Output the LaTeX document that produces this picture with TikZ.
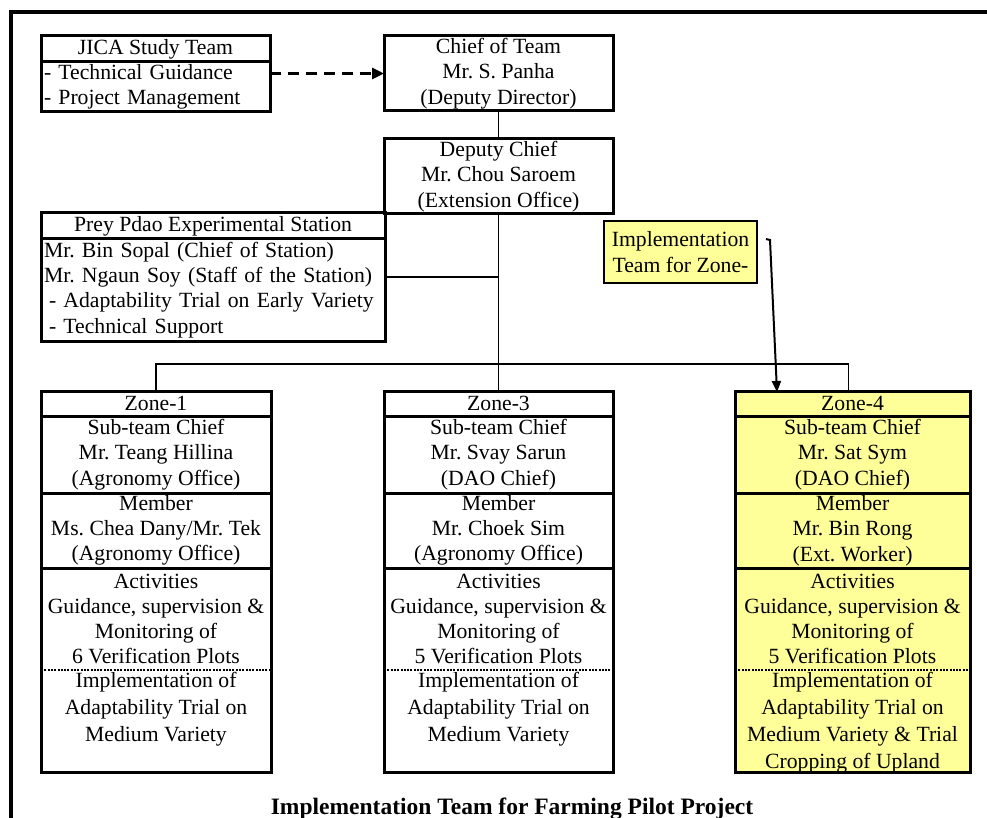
\documentclass[tikz,border=0pt]{standalone}
\usepackage{fontspec}
\setmainfont{Liberation Serif}
\definecolor{TagYellow}{HTML}{FFFF99}
\usetikzlibrary{arrows.meta, calc, positioning}
\frenchspacing

\begin{document}
\begin{tikzpicture}[x=1pt, y=-1pt,
   cell/.style={draw, line width=3pt, anchor=north west, inner sep=0pt, outer sep=0pt,
      align=center, font=\fontsize{21.7}{25.3}\selectfont},
   leftcell/.style={cell, align=left, inner xsep=3pt},
   txt/.style={inner sep=0pt, align=center, font=\fontsize{21.7}{25.3}\selectfont},
   impltxt/.style={inner sep=0pt, align=center, anchor=north, font=\fontsize{21.7}{27}\selectfont},
   link/.style={line width=1.3pt},
   sepdots/.style={line width=2.5pt, dash pattern=on 2pt off 1.3pt}]
            \useasboundingbox (0,0) rectangle (987,818);
            % Frame
            \draw[line width=4pt] (11,830) -- (11,12) -- (1000,12);
            % JICA
            \node[cell, minimum width=229, minimum height=26] (jicahead) at (41,36) {JICA Study Team};
            \node[leftcell, minimum width=229, minimum height=50, text width=223] (jicabody) at (41,62)
               {- Technical Guidance\\- Project Management};
            % Chief and deputy
            \node[cell, minimum width=229, minimum height=75] (chief) at (384,36)
               {Chief of Team\\Mr. S. Panha\\(Deputy Director)};
            \node[cell, minimum width=229, minimum height=75] (deputy) at (384,139)
               {Deputy Chief\\Mr. Chou Saroem\\(Extension Office)};
            % Station
            \node[cell, minimum width=344, minimum height=26] (stationhead) at (41,213) {Prey Pdao Experimental Station};
            \node[leftcell, minimum width=344, minimum height=102, text width=338] (stationbody) at (41,239)
               {Mr. Bin Sopal (Chief of Station)\\Mr. Ngaun Soy (Staff of the Station)\\
                \hspace*{5pt}- Adaptability Trial on Early Variety\\\hspace*{5pt}- Technical Support};
            % Zone-4 tag
            \node[cell, line width=1.5pt, fill=TagYellow, minimum width=153, minimum height=62] (tag) at (604,221)
               {Implementation\\Team for Zone-};
            % Zone-1
            \node[cell, minimum width=230, minimum height=25] (z1head) at (41,391) {Zone-1};
            \node[cell, minimum width=230, minimum height=77] (z1chief) at (41,416)
               {Sub-team Chief\\Mr. Teang Hillina\\(Agronomy Office)};
            \node[cell, minimum width=230, minimum height=75] (z1member) at (41,493)
               {Member\\Ms. Chea Dany/Mr. Tek\\(Agronomy Office)};
            \node[cell, minimum width=230, minimum height=204] (z1low) at (41,568) {};
            \node[txt] (z1act) at ($(z1low.north)+(0,51)$)
               {Activities\\Guidance, supervision \&\\Monitoring of\\6 Verification Plots};
            \node[impltxt] (z1impl) at ($(z1low.north)+(0,104)$)
               {Implementation of\\Adaptability Trial on\\Medium Variety};
            \draw[sepdots] ($(z1low.north west)+(0,102)$) -- ($(z1low.north east)+(0,102)$);
            % Zone-3
            \node[cell, minimum width=229, minimum height=25] (z3head) at (384,391) {Zone-3};
            \node[cell, minimum width=229, minimum height=77] (z3chief) at (384,416)
               {Sub-team Chief\\Mr. Svay Sarun\\(DAO Chief)};
            \node[cell, minimum width=229, minimum height=75] (z3member) at (384,493)
               {Member\\Mr. Choek Sim\\(Agronomy Office)};
            \node[cell, minimum width=229, minimum height=204] (z3low) at (384,568) {};
            \node[txt] (z3act) at ($(z3low.north)+(0,51)$)
               {Activities\\Guidance, supervision \&\\Monitoring of\\5 Verification Plots};
            \node[impltxt] (z3impl) at ($(z3low.north)+(0,104)$)
               {Implementation of\\Adaptability Trial on\\Medium Variety};
            \draw[sepdots] ($(z3low.north west)+(0,102)$) -- ($(z3low.north east)+(0,102)$);
            % Zone-4
            \node[cell, fill=TagYellow, minimum width=235, minimum height=25] (z4head) at (735,391) {Zone-4};
            \node[cell, fill=TagYellow, minimum width=235, minimum height=77] (z4chief) at (735,416)
               {Sub-team Chief\\Mr. Sat Sym\\(DAO Chief)};
            \node[cell, fill=TagYellow, minimum width=235, minimum height=75] (z4member) at (735,493)
               {Member\\Mr. Bin Rong\\(Ext. Worker)};
            \node[cell, fill=TagYellow, minimum width=235, minimum height=204] (z4low) at (735,568) {};
            \node[txt] (z4act) at ($(z4low.north)+(0,51)$)
               {Activities\\Guidance, supervision \&\\Monitoring of\\5 Verification Plots};
            \node[impltxt] (z4impl) at ($(z4low.north)+(0,104)$)
               {Implementation of\\Adaptability Trial on\\Medium Variety \& Trial\\Cropping of Upland};
            \draw[sepdots] ($(z4low.north west)+(0,102)$) -- ($(z4low.north east)+(0,102)$);
            % Links
            \draw[line width=3pt, dash pattern=on 11pt off 7pt, -{Triangle[length=12pt, width=11pt]}]
               (chief.west -| jicabody.east) -- (chief.west);
            \draw[link] (chief.south) -- (deputy.north);
            \draw[link] (deputy.south) -- (z3head.north);
            \coordinate (stationtap) at ($(stationbody.east)+(0,-13)$);
            \draw[link] (stationtap) -- (stationtap -| deputy.south);
            \coordinate (bus) at ($(deputy.south)+(0,150)$);
            \draw[link] (z1head.north) |- (bus) -| ($(z4head.north)+(-4,0)$);
            \coordinate (tagtail) at ($(tag.north east)+(9,18)$);
            \draw[line width=2pt, -{Triangle[length=11pt, width=9pt]}]
               (tagtail) -- ++(4,1) -- ($(z4head.north west)+(42,1)$);
            % Title
            \node[font=\bfseries\fontsize{23.5}{27}\selectfont, anchor=base] (title) at (512,814)
               {Implementation Team for Farming Pilot Project};
         \end{tikzpicture}
\end{document}
